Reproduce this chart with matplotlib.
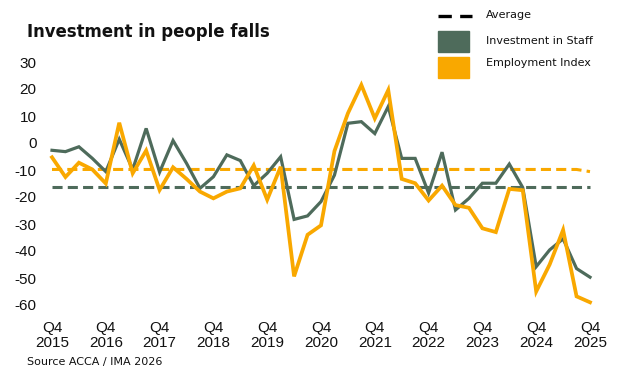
import matplotlib
matplotlib.use("Agg")
import matplotlib.pyplot as plt
from matplotlib.patches import Rectangle
from matplotlib.lines import Line2D

# ---- data ----
quarters = list(range(41))  # Q4 2015 ... Q4 2025
tick_labels = ["Q4\n2015", "Q4\n2016", "Q4\n2017", "Q4\n2018", "Q4\n2019", "Q4\n2020",
               "Q4\n2021", "Q4\n2022", "Q4\n2023", "Q4\n2024", "Q4\n2025"]
staff = [-2.7, -3.2, -1.4, -5.7, -10.6, 1.4, -9.8, 5.4, -10.8, 0.9,
         -7.5, -16.8, -12.5, -4.4, -6.5, -15.8, -11.2, -5.1, -28.3, -27.0,
         -21.7, -11.9, 7.3, 7.9, 3.5, 13.5, -5.7, -5.7, -18.5, -3.4,
         -24.8, -20.5, -14.9, -14.9, -7.8, -16.5, -45.8, -39.6, -35.5, -46.5,
         -49.7]
employment = [-5.3, -12.6, -7.3, -9.8, -15.0, 7.5, -11.2, -2.8, -17.4, -9.0,
              -13.3, -18.0, -20.5, -18.0, -16.8, -8.3, -21.0, -8.8, -49.4, -34.0,
              -30.5, -3.0, 11.0, 21.5, 9.1, 19.6, -13.3, -14.9, -21.3, -15.8,
              -23.0, -24.0, -31.6, -33.0, -17.0, -17.5, -55.0, -45.0, -32.2, -56.8,
              -59.0]
staff_avg = [-16.2] * 41
employment_avg = [-9.8] * 40 + [-10.6]
yticks = [30, 20, 10, 0, -10, -20, -30, -40, -50, -60]

GREEN = "#4E6B5B"
ORANGE = "#F9A800"

fig = plt.figure(figsize=(6.27, 3.78), dpi=100)
W, H = 627, 378
ax = fig.add_axes([38.55 / W, 1 - 318.5 / H, (603.45 - 38.55) / W, (318.5 - 48.5) / H])

ax.plot(quarters, employment_avg, color=ORANGE, lw=2.2, dashes=(3.3, 1.7))
ax.plot(quarters, staff_avg, color=GREEN, lw=2.2, dashes=(3.3, 1.7))
ax.plot(quarters, staff, color=GREEN, lw=2.3, solid_joinstyle="miter")
ax.plot(quarters, employment, color=ORANGE, lw=2.7, solid_joinstyle="miter")

ax.set_xlim(-1, 41)
ax.set_ylim(-65, 35)
ax.set_yticks(yticks)
ax.set_yticklabels([str(v) for v in yticks], fontfamily="Liberation Sans", fontsize=11)
ax.set_xticks(quarters[::4])
ax.set_xticklabels(tick_labels, fontfamily="Liberation Sans", fontsize=11, linespacing=1.15)
ax.tick_params(length=0, pad=1.5, colors="#111111")
for s in ax.spines.values():
    s.set_visible(False)

fig.text(27 / W, 1 - 32 / H, "Investment in people falls", fontsize=11.9, fontweight="bold",
         fontfamily="DejaVu Sans", va="center", ha="left", color="#111111")
fig.text(27 / W, 1 - 362 / H, "Source ACCA / IMA 2026", fontsize=8, fontfamily="DejaVu Sans",
         va="center", ha="left", color="#111111")

# legend (manual)
fig.add_artist(Line2D([438 / W, 472 / W], [1 - 16 / H, 1 - 16 / H], color="black", lw=2.4,
                      dashes=(4, 2.5), transform=fig.transFigure))
fig.add_artist(Rectangle((438 / W, 1 - 52 / H), 31 / W, 21 / H, color=GREEN, transform=fig.transFigure))
fig.add_artist(Rectangle((438 / W, 1 - 78 / H), 31 / W, 21 / H, color=ORANGE, transform=fig.transFigure))
for y, t in [(15, "Average"), (41, "Investment in Staff"), (63, "Employment Index")]:
    fig.text(486 / W, 1 - y / H, t, fontsize=8, fontfamily="DejaVu Sans", va="center", ha="left",
             color="#111111")

fig.savefig("out.png", dpi=100)
